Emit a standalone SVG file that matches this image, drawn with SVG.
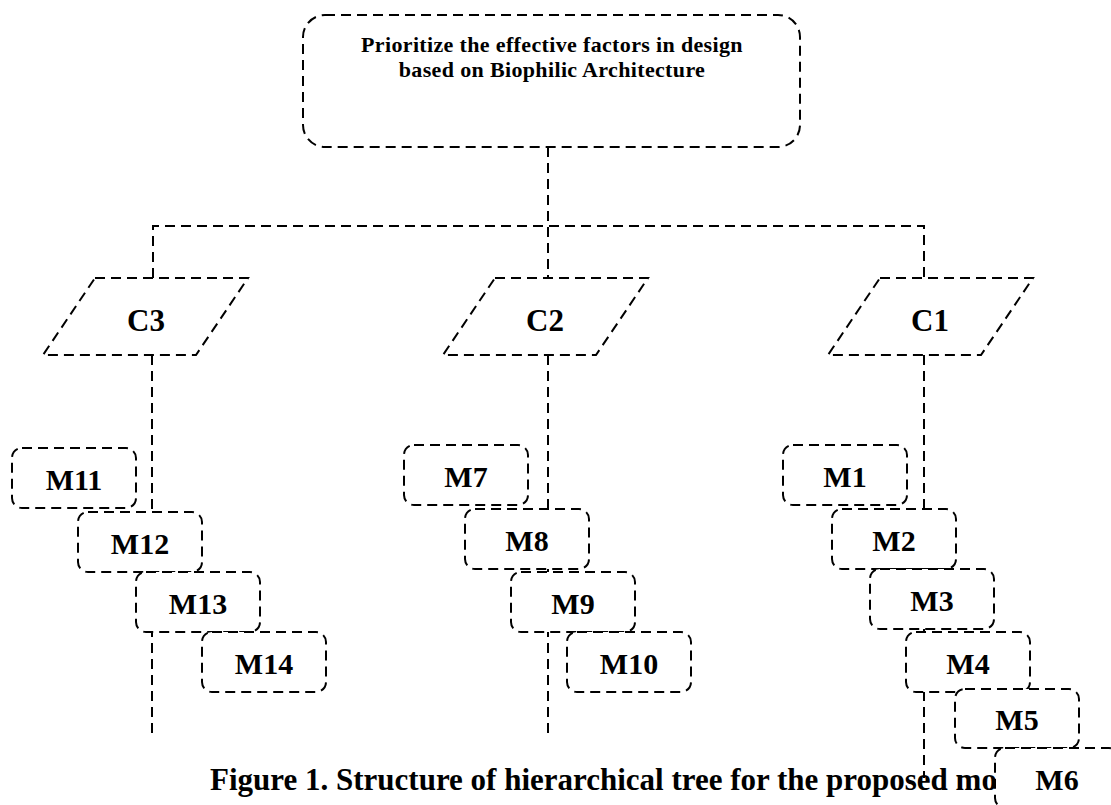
<svg xmlns="http://www.w3.org/2000/svg" width="1111" height="805" viewBox="0 0 1111 805">
<style>
.ln{fill:none;stroke:#000;stroke-width:2;stroke-dasharray:10 6}
.bx{fill:#fff;stroke:#000;stroke-width:2;stroke-dasharray:10 6}
.t{font-family:"Liberation Serif","Times New Roman",serif;font-weight:bold;fill:#000;text-anchor:middle}
.m{font-size:30px}
.c{font-size:31px}
.h{font-size:22px;letter-spacing:0.35px}
.cap{font-family:"Liberation Serif","Times New Roman",serif;font-weight:bold;font-size:31px;fill:#000}
</style>
<rect width="1111" height="805" fill="#fff"/>
<text id="caption" class="cap" x="210" y="790">Figure 1. Structure of hierarchical tree for the proposed mo</text>
<g id="connectors">
<path class="ln" d="M548,147 V278"/>
<path class="ln" d="M153,278 V226 H924 V278"/>
<path class="ln" d="M152,355 V738"/>
<path class="ln" d="M548,355 V738"/>
<path class="ln" d="M924,355 V778"/>
</g>
<g id="root">
<rect class="bx" x="303" y="15" width="497" height="132" rx="22"/>
<text class="t h" x="552" y="52">Prioritize the effective factors in design</text>
<text class="t h" x="552" y="77">based on Biophilic Architecture</text>
</g>
<g id="C3">
<path class="bx" d="M95,278 H248 L196,355 H43 Z"/>
<text class="t c" x="146" y="331">C3</text>
</g>
<g id="C2">
<path class="bx" d="M495,278 H648 L596,355 H443 Z"/>
<text class="t c" x="545" y="331">C2</text>
</g>
<g id="C1">
<path class="bx" d="M880,278 H1033 L981,355 H828 Z"/>
<text class="t c" x="930" y="331">C1</text>
</g>
<g id="M11"><rect class="bx" x="12" y="448" width="124" height="60" rx="10"/><text class="t m" x="74" y="490">M11</text></g>
<g id="M12"><rect class="bx" x="78" y="512" width="124" height="60" rx="10"/><text class="t m" x="140" y="554">M12</text></g>
<g id="M13"><rect class="bx" x="136" y="572" width="124" height="60" rx="10"/><text class="t m" x="198" y="614">M13</text></g>
<g id="M14"><rect class="bx" x="202" y="632" width="124" height="60" rx="10"/><text class="t m" x="264" y="674">M14</text></g>
<g id="M7"><rect class="bx" x="404" y="445" width="124" height="60" rx="10"/><text class="t m" x="466" y="487">M7</text></g>
<g id="M8"><rect class="bx" x="465" y="509" width="124" height="60" rx="10"/><text class="t m" x="527" y="551">M8</text></g>
<g id="M9"><rect class="bx" x="511" y="572" width="124" height="60" rx="10"/><text class="t m" x="573" y="614">M9</text></g>
<g id="M10"><rect class="bx" x="567" y="632" width="124" height="60" rx="10"/><text class="t m" x="629" y="674">M10</text></g>
<g id="M1"><rect class="bx" x="783" y="445" width="124" height="60" rx="10"/><text class="t m" x="845" y="487">M1</text></g>
<g id="M2"><rect class="bx" x="832" y="509" width="124" height="60" rx="10"/><text class="t m" x="894" y="551">M2</text></g>
<g id="M3"><rect class="bx" x="870" y="569" width="124" height="60" rx="10"/><text class="t m" x="932" y="611">M3</text></g>
<g id="M4"><rect class="bx" x="906" y="632" width="124" height="60" rx="10"/><text class="t m" x="968" y="674">M4</text></g>
<g id="M5"><rect class="bx" x="955" y="689" width="124" height="59" rx="10"/><text class="t m" x="1017" y="730">M5</text></g>
<g id="M6"><rect class="bx" x="995" y="748" width="124" height="60" rx="10"/><text class="t m" x="1057" y="790">M6</text></g>
</svg>
